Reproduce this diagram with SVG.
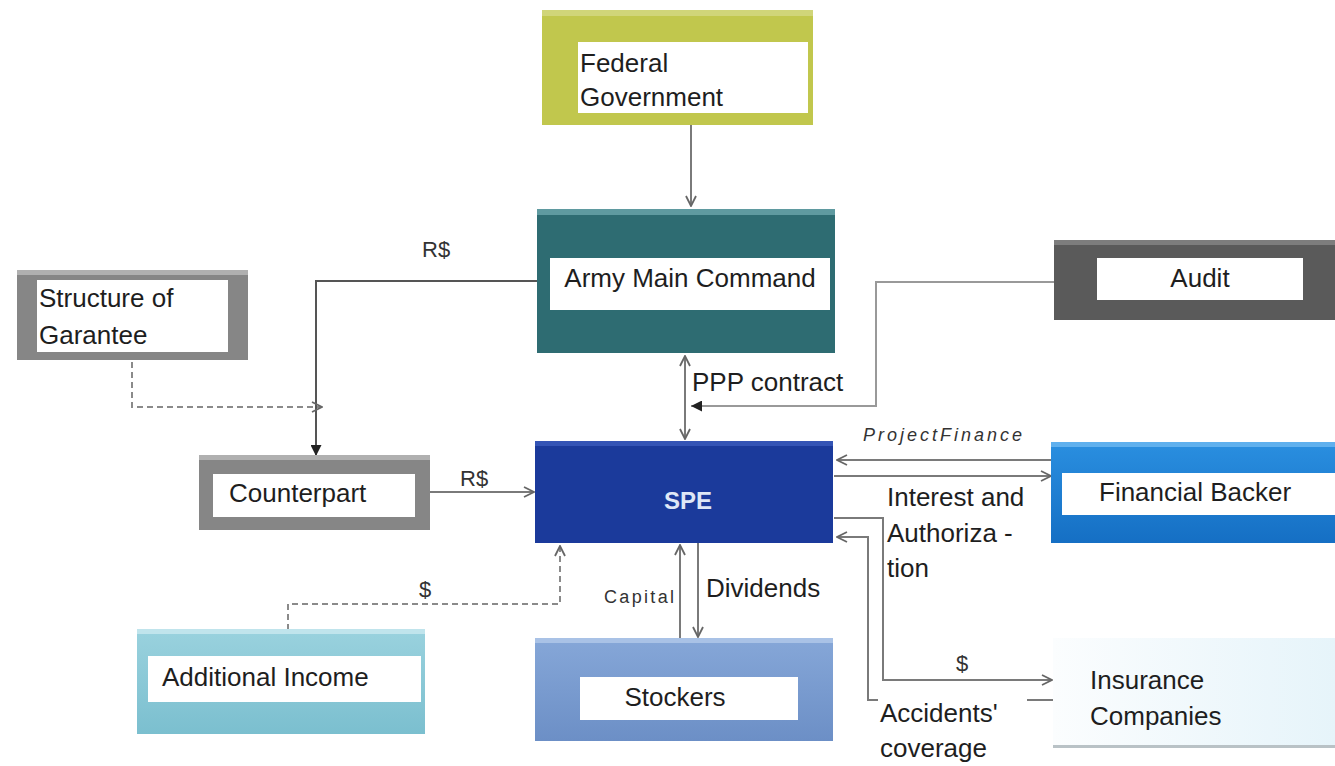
<svg xmlns="http://www.w3.org/2000/svg" width="1335" height="766" viewBox="0 0 1335 766">
  <style>
    .lbl { font-family: "Liberation Sans", Arial, sans-serif; font-size: 26px; fill: #1e1e1e; }
    .small { font-family: "Liberation Sans", Arial, sans-serif; font-size: 22px; fill: #333; }
    .tag { fill: #ffffff; }
    .conn { fill: none; stroke: #7a7a7a; stroke-width: 2; }
    .dark { stroke: #555; }
    .dash { stroke: #8a8a8a; stroke-dasharray: 6 4; }
    .hl { fill: #ffffff; opacity: 0.25; }
  </style>
  <defs>
    <marker id="open" viewBox="0 0 12 12" refX="11" refY="6" markerWidth="12" markerHeight="12" markerUnits="userSpaceOnUse" orient="auto-start-reverse">
      <path d="M1,1 L11,6 L1,11" fill="none" stroke="#666" stroke-width="1.8"/>
    </marker>
    <marker id="solid" viewBox="0 0 10 10" refX="10" refY="5" markerWidth="11" markerHeight="11" markerUnits="userSpaceOnUse" orient="auto">
      <path d="M0,0 L10,5 L0,10 z" fill="#222"/>
    </marker>
    <linearGradient id="gIns" x1="0" y1="0" x2="1" y2="0">
      <stop offset="0" stop-color="#fbfdfe"/>
      <stop offset="1" stop-color="#e6f4fa"/>
    </linearGradient>
    <linearGradient id="gFin" x1="0" y1="0" x2="0" y2="1">
      <stop offset="0" stop-color="#2a8fe0"/>
      <stop offset="1" stop-color="#156fc4"/>
    </linearGradient>
    <linearGradient id="gStock" x1="0" y1="0" x2="0" y2="1">
      <stop offset="0" stop-color="#86a7d8"/>
      <stop offset="1" stop-color="#6c8fc6"/>
    </linearGradient>
    <linearGradient id="gAdd" x1="0" y1="0" x2="0" y2="1">
      <stop offset="0" stop-color="#9ad2de"/>
      <stop offset="1" stop-color="#7bbfcf"/>
    </linearGradient>
  </defs>

  <rect width="1335" height="766" fill="#ffffff"/>

  <!-- connectors -->
  <g id="connectors">
    <path class="conn" d="M691,125 V206" marker-end="url(#open)"/>
    <path class="conn dark" d="M537,281 H316 V456" marker-end="url(#solid)"/>
    <path class="conn dash" d="M132,362 V407 H322" marker-end="url(#open)"/>
    <path class="conn" d="M430,492 H534" marker-end="url(#open)"/>
    <path class="conn" d="M685,356 V439" marker-start="url(#open)" marker-end="url(#open)"/>
    <path class="conn" style="stroke:#999" d="M1054,282 H876 V406 H691" marker-end="url(#solid)"/>
    <path class="conn" d="M1052,460 H837" marker-end="url(#open)"/>
    <path class="conn" d="M834,476 H1051" marker-end="url(#open)"/>
    <path class="conn" d="M834,518 H883 V680 H1052" marker-end="url(#open)"/>
    <path class="conn" d="M1053,700 H1027 M878,700 H868 V537 H837" marker-end="url(#open)"/>
    <path class="conn dash" d="M288,630 V604 H560 V546" marker-end="url(#open)"/>
    <path class="conn" d="M680,638 V545" marker-end="url(#open)"/>
    <path class="conn" d="M698,543 V637" marker-end="url(#open)"/>

    <text class="small" x="422" y="257">R$</text>
    <text class="small" x="460" y="486">R$</text>
    <text class="lbl" x="692" y="391">PPP contract</text>
    <text x="863" y="441" font-family="Liberation Sans, Arial, sans-serif" font-size="18" font-style="italic" fill="#333" textLength="159" lengthAdjust="spacing">ProjectFinance</text>
    <text class="lbl" x="887" y="506">Interest and</text>
    <text class="lbl" x="887" y="542">Authoriza -</text>
    <text class="lbl" x="887" y="577">tion</text>
    <text class="small" x="956" y="671" font-size="19">$</text>
    <text class="lbl" x="880" y="722">Accidents'</text>
    <text class="lbl" x="880" y="757">coverage</text>
    <text class="small" x="419" y="597">$</text>
    <text x="604" y="603" font-family="Liberation Sans, Arial, sans-serif" font-size="18" fill="#333" textLength="70" lengthAdjust="spacing">Capital</text>
    <text class="lbl" x="706" y="597">Dividends</text>
  </g>

  <!-- Federal Government -->
  <g id="federal">
    <rect x="542" y="10" width="271" height="115" fill="#c1c74d"/>
    <rect x="542" y="10" width="271" height="6" class="hl"/>
    <rect x="578" y="42" width="230" height="71" class="tag"/>
    <text class="lbl" x="580" y="72">Federal</text>
    <text class="lbl" x="580" y="106">Government</text>
  </g>

  <!-- Army Main Command -->
  <g id="army">
    <rect x="537" y="209" width="298" height="144" fill="#2e6c72"/>
    <rect x="537" y="209" width="298" height="6" fill="#5f9aa0"/>
    <rect x="550" y="258" width="280" height="52" class="tag"/>
    <text class="lbl" x="690" y="287" text-anchor="middle">Army Main Command</text>
  </g>

  <!-- Audit -->
  <g id="audit">
    <rect x="1054" y="240" width="281" height="80" fill="#5a5a5a"/>
    <rect x="1054" y="240" width="281" height="5" fill="#7d7d7d"/>
    <rect x="1097" y="258" width="206" height="42" class="tag"/>
    <text class="lbl" x="1200" y="287" text-anchor="middle">Audit</text>
  </g>

  <!-- Structure of Garantee -->
  <g id="structure">
    <rect x="17" y="270" width="231" height="90" fill="#868686"/>
    <rect x="17" y="270" width="231" height="5" fill="#b0b0b0"/>
    <rect x="37" y="280" width="191" height="72" class="tag"/>
    <text class="lbl" x="39" y="307">Structure of</text>
    <text class="lbl" x="39" y="344">Garantee</text>
  </g>

  <!-- Counterpart -->
  <g id="counterpart">
    <rect x="199" y="455" width="231" height="75" fill="#868686"/>
    <rect x="199" y="455" width="231" height="5" fill="#b0b0b0"/>
    <rect x="213" y="474" width="202" height="43" class="tag"/>
    <text class="lbl" x="229" y="502">Counterpart</text>
  </g>

  <!-- SPE -->
  <g id="spe">
    <rect x="535" y="441" width="298" height="102" fill="#1b3a9b"/>
    <rect x="535" y="441" width="298" height="5" fill="#3454b5"/>
    <text x="688" y="509" text-anchor="middle" font-family="Liberation Sans, Arial, sans-serif" font-size="24" font-weight="bold" fill="#dfe7f6">SPE</text>
  </g>

  <!-- Financial Backer -->
  <g id="financial">
    <rect x="1051" y="442" width="284" height="101" fill="url(#gFin)"/>
    <rect x="1051" y="442" width="284" height="5" fill="#5fb0ee"/>
    <rect x="1062" y="473" width="273" height="42" class="tag"/>
    <text class="lbl" x="1099" y="501">Financial Backer</text>
  </g>

  <!-- Additional Income -->
  <g id="additional">
    <rect x="137" y="629" width="288" height="105" fill="url(#gAdd)"/>
    <rect x="137" y="629" width="288" height="5" fill="#c0e4ec"/>
    <rect x="148" y="656" width="273" height="46" class="tag"/>
    <text class="lbl" x="162" y="686">Additional Income</text>
  </g>

  <!-- Stockers -->
  <g id="stockers">
    <rect x="535" y="638" width="298" height="103" fill="url(#gStock)"/>
    <rect x="535" y="638" width="298" height="5" fill="#a9c2e6"/>
    <rect x="580" y="677" width="218" height="43" class="tag"/>
    <text class="lbl" x="675" y="706" text-anchor="middle">Stockers</text>
  </g>

  <!-- Insurance Companies -->
  <g id="insurance">
    <rect x="1053" y="638" width="282" height="110" fill="url(#gIns)"/>
    <rect x="1053" y="745" width="282" height="3" fill="#b9c2c6"/>
    <text class="lbl" x="1090" y="689">Insurance</text>
    <text class="lbl" x="1090" y="725">Companies</text>
  </g>
</svg>
